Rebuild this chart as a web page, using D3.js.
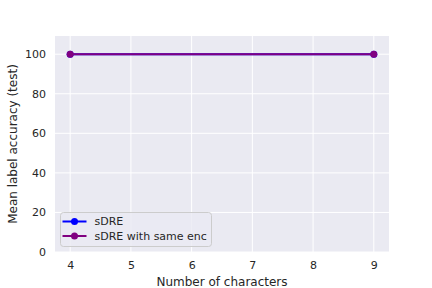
<!DOCTYPE html>
<html>
<head>
<meta charset="utf-8">
<script src="https://cdn.jsdelivr.net/npm/d3@7"></script>
<style>
  body { margin: 0; background: #fff; }
  svg { display: block; font-family: "DejaVu Sans", sans-serif; }
</style>
</head>
<body>
<div id="chart"></div>
<script>
// values
const nChars = [4, 9];
const sdre = [100, 100];
const sdreSameEnc = [100, 100];
const seriesNames = ["sDRE", "sDRE with same enc"];
const seriesColors = ["#0000ff", "#800080"];
const xTicks = [4, 5, 6, 7, 8, 9];
const yTicks = [0, 20, 40, 60, 80, 100];

var width = 432, height = 288;
var margin = {left: 55, right: 43, top: 36, bottom: 36};

var svg = d3.select("#chart").append("svg")
    .attr("width", width)
    .attr("height", height);

var x = d3.scaleLinear().domain([3.75, 9.25]).range([margin.left, width - margin.right]);
var y = d3.scaleLinear().domain([0, 109.2]).range([height - margin.bottom, margin.top]);

// background
svg.append("rect")
    .attr("x", margin.left).attr("y", margin.top)
    .attr("width", width - margin.left - margin.right)
    .attr("height", height - margin.top - margin.bottom)
    .attr("fill", "#eaeaf2");

// grid
svg.append("g").selectAll("line").data(xTicks).enter().append("line")
    .attr("x1", d => x(d)).attr("x2", d => x(d))
    .attr("y1", margin.top).attr("y2", height - margin.bottom)
    .attr("stroke", "#fff").attr("stroke-width", 1);
svg.append("g").selectAll("line").data(yTicks).enter().append("line")
    .attr("x1", margin.left).attr("x2", width - margin.right)
    .attr("y1", d => y(d)).attr("y2", d => y(d))
    .attr("stroke", "#fff").attr("stroke-width", 1);

// axes (ticks only text, seaborn darkgrid style)
var xAxis = svg.append("g")
    .attr("transform", "translate(0," + (height - margin.bottom) + ")")
    .call(d3.axisBottom(x).tickValues(xTicks).tickFormat(d3.format("d")).tickSize(0).tickPadding(9));
var yAxis = svg.append("g")
    .attr("transform", "translate(" + margin.left + ",0)")
    .call(d3.axisLeft(y).tickValues(yTicks).tickFormat(d3.format("d")).tickSize(0).tickPadding(9));
[xAxis, yAxis].forEach(function(a) {
    a.select(".domain").remove();
    a.selectAll("text")
        .attr("fill", "#262626")
        .style("font-size", "11px")
        .style("font-family", "DejaVu Sans");
});

svg.append("text")
    .attr("x", (margin.left + width - margin.right) / 2)
    .attr("y", 286)
    .attr("text-anchor", "middle")
    .attr("fill", "#262626")
    .style("font-size", "12px")
    .text("Number of characters");

svg.append("text")
    .attr("transform", "translate(17," + ((margin.top + height - margin.bottom) / 2) + ") rotate(-90)")
    .attr("text-anchor", "middle")
    .attr("fill", "#262626")
    .style("font-size", "12px")
    .text("Mean label accuracy (test)");

// lines
var series = [sdre, sdreSameEnc];
var line = d3.line().x((d, i) => x(nChars[i])).y(d => y(d));
series.forEach(function(vals, k) {
    svg.append("path")
        .datum(vals)
        .attr("d", line)
        .attr("fill", "none")
        .attr("stroke", seriesColors[k])
        .attr("stroke-width", 2);
    svg.append("g").selectAll("circle").data(vals).enter().append("circle")
        .attr("cx", (d, i) => x(nChars[i]))
        .attr("cy", d => y(d))
        .attr("r", 3.5)
        .attr("fill", seriesColors[k]);
});

// legend
var lg = svg.append("g").attr("transform", "translate(60.5,212.5)");
lg.append("rect")
    .attr("width", 151).attr("height", 34)
    .attr("rx", 3)
    .attr("fill", "#eaeaf2").attr("fill-opacity", 0.8)
    .attr("stroke", "#cccccc").attr("stroke-width", 1);
var item = lg.selectAll(".item").data(seriesNames).enter().append("g")
    .attr("class", "item")
    .attr("transform", (d, i) => "translate(0," + (9 + i * 14.5) + ")");
item.append("line")
    .attr("x1", 2).attr("x2", 26)
    .attr("stroke", (d, i) => seriesColors[i]).attr("stroke-width", 2);
item.append("circle")
    .attr("cx", 14).attr("r", 3.5)
    .attr("fill", (d, i) => seriesColors[i]);
item.append("text")
    .attr("x", 34).attr("dy", "0.35em")
    .attr("fill", "#262626")
    .style("font-size", "11px")
    .text(d => d);
</script>
</body>
</html>
